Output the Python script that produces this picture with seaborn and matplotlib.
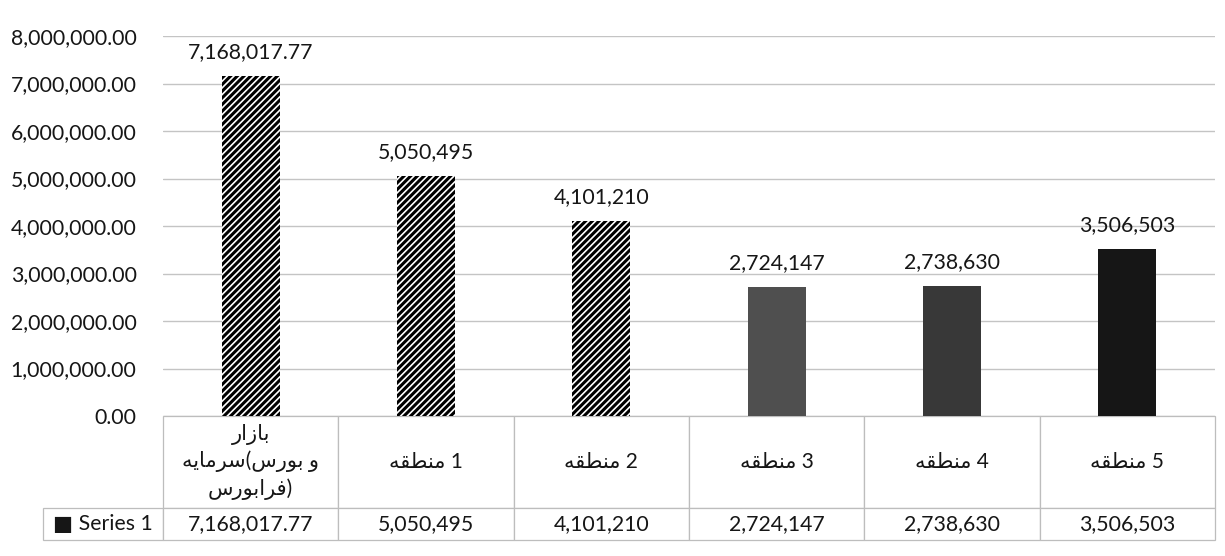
import seaborn as sns
import matplotlib.pyplot as plt
import re

# data
categories = ['بازار سرمایه(بورس و فرابورس)', 'منطقه 1', 'منطقه 2', 'منطقه 3', 'منطقه 4', 'منطقه 5']
values = [7168017.77, 5050495, 4101210, 2724147, 2738630, 3506503]
series_name = 'Series 1'
yticks = [0, 1000000, 2000000, 3000000, 4000000, 5000000, 6000000, 7000000, 8000000]

# arabic letter forms: isolated, final, initial, medial
FORMS = {
    'ا': (0xFE8D, 0xFE8E, None, None),
    'ب': (0xFE8F, 0xFE90, 0xFE91, 0xFE92),
    'ر': (0xFEAD, 0xFEAE, None, None),
    'ز': (0xFEAF, 0xFEB0, None, None),
    'س': (0xFEB1, 0xFEB2, 0xFEB3, 0xFEB4),
    'ط': (0xFEC1, 0xFEC2, 0xFEC3, 0xFEC4),
    'ف': (0xFED1, 0xFED2, 0xFED3, 0xFED4),
    'ق': (0xFED5, 0xFED6, 0xFED7, 0xFED8),
    'م': (0xFEE1, 0xFEE2, 0xFEE3, 0xFEE4),
    'ن': (0xFEE5, 0xFEE6, 0xFEE7, 0xFEE8),
    'ه': (0xFEE9, 0xFEEA, 0xFEEB, 0xFEEC),
    'و': (0xFEED, 0xFEEE, None, None),
    'ی': (0xFBFC, 0xFBFD, 0xFEF3, 0xFEF4),
}


def shape_run(run):
    out = []
    for i, ch in enumerate(run):
        f = FORMS[ch]
        prev = i > 0 and FORMS[run[i - 1]][2] is not None
        nxt = i < len(run) - 1 and f[2] is not None
        if prev and nxt:
            code = f[3]
        elif prev:
            code = f[1]
        elif nxt:
            code = f[2]
        else:
            code = f[0]
        out.append(chr(code))
    return ''.join(out[::-1])


def shape(text):
    # matplotlib has no arabic shaping: join letters by hand, words stay left-to-right
    return re.sub('[' + ''.join(FORMS) + ']+', lambda m: shape_run(m.group()), text)


def fmt(v):
    return f'{v:,.2f}' if v != int(v) else f'{v:,.0f}'


sns.set_style('white')
fam = ['Lato', 'DejaVu Sans']
plt.rcParams['font.family'] = fam
plt.rcParams['hatch.linewidth'] = 2.2
plt.rcParams['hatch.color'] = 'black'

W, H = 1225, 556
fig = plt.figure(figsize=(W / 100, H / 100), dpi=100)
# axes in pixels: x 163..1215, y 36..416
ax = fig.add_axes([163 / W, 1 - 416 / H, 1052 / W, 380 / H])

colors = ['white', 'white', 'white', '#4f4f4f', '#383838', '#161616']
sns.barplot(x=categories, y=values, hue=categories, palette=colors, legend=False,
            width=0.33, ax=ax, edgecolor='none', linewidth=0)
for i, p in enumerate(ax.patches):
    if i < 3:
        p.set_hatch('/////')
        p.set_edgecolor('black')
        p.set_linewidth(0)

for c in ax.containers:
    ax.bar_label(c, labels=[fmt(v) for v in c.datavalues], padding=10, fontsize=15.3, color='#161616')

ax.set_ylim(0, 8000000)
ax.set_yticks(yticks)
ax.set_yticklabels([f'{t:,.2f}' for t in yticks], fontsize=15.3, color='#161616')
ax.tick_params(axis='y', length=0, pad=19)
ax.set_xticks([])
ax.set_xlabel('')
ax.grid(axis='y', color='#c4c4c4', linewidth=1)
ax.set_axisbelow(True)
for s in ax.spines.values():
    s.set_visible(False)

# data table below the bars (excel style)
col_labels = [shape(c) for c in categories]
col_labels[0] = shape('بازار\nسرمایه(بورس و\nفرابورس)')
tab = ax.table(cellText=[[fmt(v) for v in values]], rowLabels=['\u25a0 ' + series_name],
               colLabels=col_labels, cellLoc='center', colLoc='center', rowLoc='center',
               bbox=[0, -124 / 380, 1, 124 / 380])
tab.auto_set_font_size(False)
for (r, c), cell in tab.get_celld().items():
    cell.set_edgecolor('#bdbdbd')
    cell.set_linewidth(0.9)
    cell.set_width(148 / 1052 if c == -1 else 1 / 6)
    cell.set_height(92 / 380 if r == 0 else 32 / 380)
    t = cell.get_text()
    t.set_fontfamily(fam)
    t.set_color('#161616')
    if r == 0:
        t.set_fontsize(15)
        t.set_multialignment('center')
        t.set_linespacing(1.35)
    else:
        t.set_fontsize(15.3)

fig.savefig('out.png', dpi=100, facecolor='white')
